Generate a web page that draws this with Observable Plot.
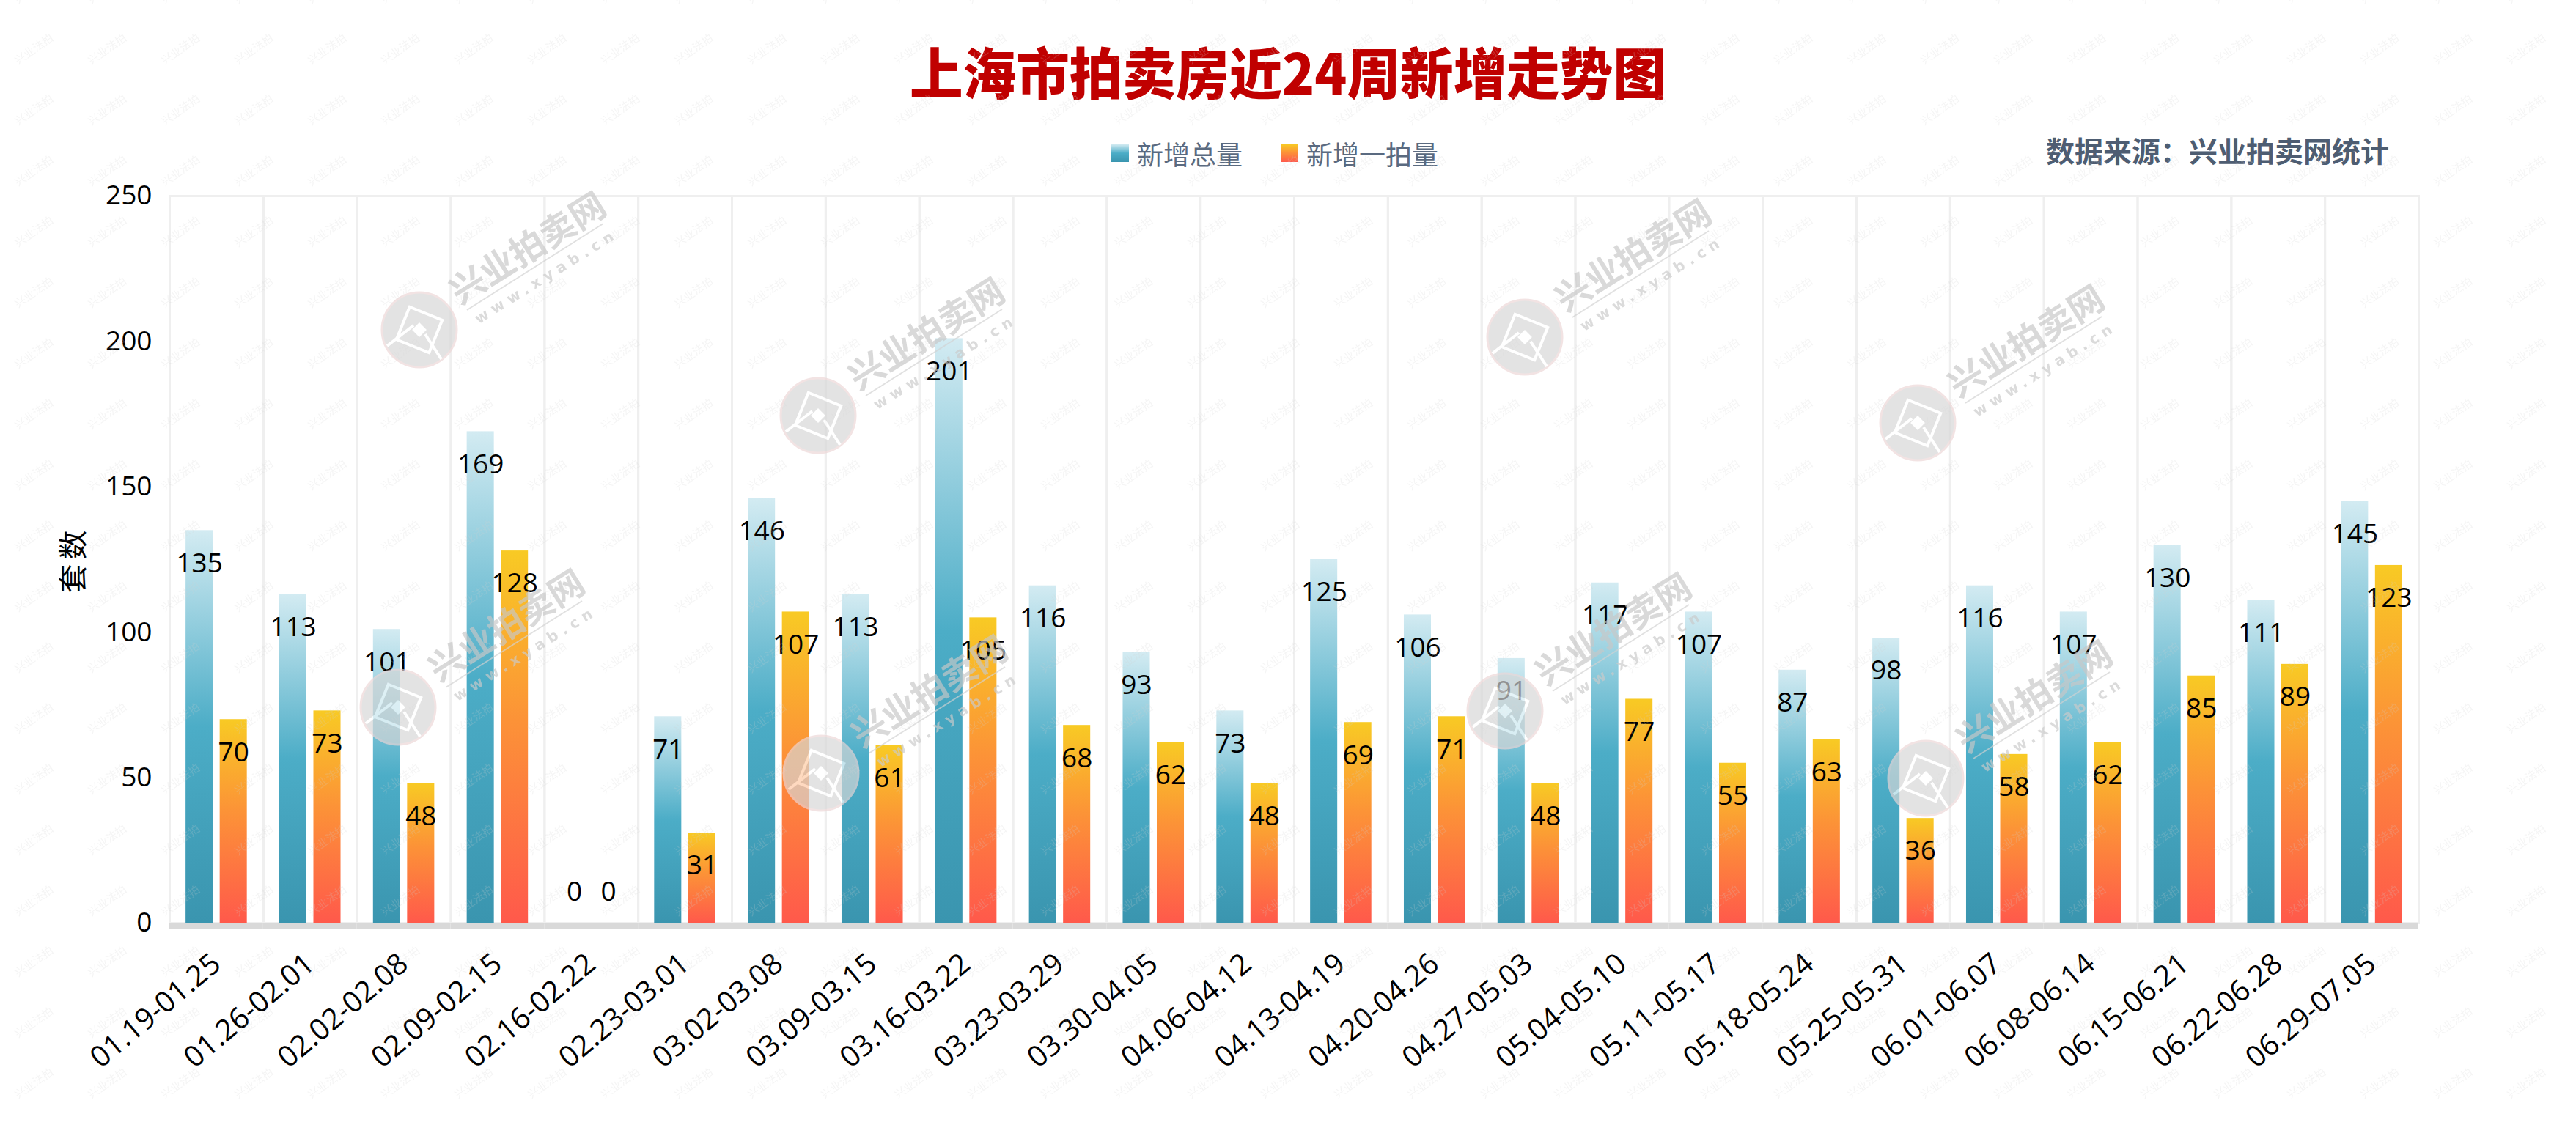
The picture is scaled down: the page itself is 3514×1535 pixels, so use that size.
<!DOCTYPE html>
<html>
<head>
<meta charset="utf-8">
<script src="https://cdn.jsdelivr.net/npm/d3@7"></script>
<script src="https://cdn.jsdelivr.net/npm/@observablehq/plot@0.6"></script>
<style>
  html, body { margin: 0; padding: 0; background: #fff; }
  #wrap { position: relative; width: 3514px; height: 1535px; background: #fff; overflow: hidden; }
  #title { position: absolute; left: 0; width: 3514px; top: 58px; text-align: center;
           font-family: "Noto Sans CJK SC", sans-serif; font-weight: 900; font-size: 76px; line-height: 1;
           color: #c00000; transform: scaleX(0.955); transform-origin: 1757px 0; }
  #legend { position: absolute; left: 1516px; top: 189px; height: 40px; display: flex; align-items: center;
            font-family: "Noto Sans CJK SC", sans-serif; font-size: 36px; color: #5a6a80; }
  .item { display: flex; align-items: center; margin-right: 52px; }
  .sw { width: 24px; height: 24px; margin-right: 11px; }
  #source { position: absolute; right: 255px; top: 182px; font-family: "Noto Sans CJK SC", sans-serif;
            font-weight: 700; font-size: 39px; line-height: 44px; color: #4e5d72; }
  #chart { position: absolute; left: 0; top: 240px; }
  #wm { position: absolute; left: 0; top: 0; pointer-events: none; }
</style>
</head>
<body>
<div id="wrap">
  <div id="title"></div>
  <div id="legend"></div>
  <div id="source"></div>
  <div id="chart"></div>
</div>
<script>
// ---- data ----
const titleText = "上海市拍卖房近24周新增走势图";
const sourceText = "数据来源：兴业拍卖网统计";
const yLabel = "套数";
const weeks = ["01.19-01.25","01.26-02.01","02.02-02.08","02.09-02.15","02.16-02.22","02.23-03.01",
  "03.02-03.08","03.09-03.15","03.16-03.22","03.23-03.29","03.30-04.05","04.06-04.12",
  "04.13-04.19","04.20-04.26","04.27-05.03","05.04-05.10","05.11-05.17","05.18-05.24",
  "05.25-05.31","06.01-06.07","06.08-06.14","06.15-06.21","06.22-06.28","06.29-07.05"];
const seriesNames = ["新增总量", "新增一拍量"];
const totalNew = [135,113,101,169,0,71,146,113,201,116,93,73,125,106,91,117,107,87,98,116,107,130,111,145];
const firstAuctionNew = [70,73,48,128,0,31,107,61,105,68,62,48,69,71,48,77,55,63,36,58,62,85,89,123];
const yTicks = [0, 50, 100, 150, 200, 250];
const yDomain = [0, 250];

// gradients (top -> bottom)
const gradStops = [
  [["0%", "#d3ebf2"], ["50%", "#4cadc7"], ["100%", "#3a95af"]],
  [["0%", "#f8ca24"], ["45%", "#fc9337"], ["100%", "#ff594b"]]
];
const gradIds = ["gTotal", "gFirst"];

const rows = [];
weeks.forEach((w, i) => {
  rows.push({week: w, series: seriesNames[0], value: totalNew[i]});
  rows.push({week: w, series: seriesNames[1], value: firstAuctionNew[i]});
});

// ---- header ----
document.getElementById("title").textContent = titleText;
document.getElementById("source").textContent = sourceText;
const legend = d3.select("#legend");
seriesNames.forEach((s, i) => {
  const it = legend.append("div").attr("class", "item");
  it.append("div").attr("class", "sw")
    .style("background", `linear-gradient(to bottom, ${gradStops[i].map(d => d[1] + " " + d[0]).join(", ")})`);
  it.append("span").text(s);
});

// ---- chart ----
const plot = Plot.plot({
  width: 3514,
  height: 1295,
  marginTop: 27,
  marginBottom: 276,
  marginLeft: 231,
  marginRight: 215,
  style: {fontFamily: "'Open Sans','Noto Sans CJK SC',sans-serif", fontSize: "37px", color: "#000",
          background: "transparent", overflow: "visible"},
  facet: {data: rows, x: "week"},
  fx: {domain: weeks, padding: 0, round: false, axis: "bottom", tickRotate: -40, tickSize: 0,
       tickPadding: 50, label: null},
  x: {domain: seriesNames, paddingInner: 0.204, paddingOuter: 0.476, round: false, axis: null},
  y: {domain: yDomain, ticks: yTicks, tickSize: 0, tickPadding: 24, label: yLabel,
      labelAnchor: "center", labelOffset: 146, labelArrow: "none"},
  marks: [
    Plot.frame({stroke: "#efefef", strokeWidth: 3}),
    Plot.barY(rows, {filter: d => d.series === seriesNames[0], x: "series", y: "value", fill: "url(#gTotal)"}),
    Plot.barY(rows, {filter: d => d.series === seriesNames[1], x: "series", y: "value", fill: "url(#gFirst)"}),
    Plot.ruleY([0], {stroke: "#d9d9d9", strokeWidth: 8, dy: 4}),
    Plot.text(rows, {filter: d => d.value > 0, x: "series", y: "value", text: d => String(d.value), dy: 45, fill: "#000"}),
    Plot.text(rows, {filter: d => d.value === 0, x: "series", y: "value", text: d => String(d.value), dy: -42, fill: "#000"})
  ]
});

const defs = d3.select(plot).insert("defs", ":first-child");
gradIds.forEach((id, i) => {
  const g = defs.append("linearGradient").attr("id", id).attr("x1", 0).attr("y1", 0).attr("x2", 0).attr("y2", 1);
  gradStops[i].forEach(([o, c]) => g.append("stop").attr("offset", o).attr("stop-color", c));
});
// axis text styling
d3.select(plot).selectAll('[aria-label="fx-axis tick label"]').attr("font-size", 40);
d3.select(plot).selectAll('[aria-label="y-axis label"]').attr("font-size", 40).attr("letter-spacing", 6)
  .attr("font-weight", 400);
document.getElementById("chart").appendChild(plot);

// ---- watermark overlay ----
const wmCenters = [[572,450],[1116,567],[543,965],[1120,1055],[2080,460],[2616,577],[2053,970],[2627,1062]];
const wm = d3.select("#wrap").append("svg").attr("id", "wm").attr("width", 3514).attr("height", 1535);
const wdefs = wm.append("defs");
const pat = wdefs.append("pattern").attr("id", "tile").attr("patternUnits", "userSpaceOnUse")
  .attr("x", -3).attr("y", 27).attr("width", 100).attr("height", 83);
pat.append("text").attr("x", 50).attr("y", 41).attr("text-anchor", "middle").attr("dominant-baseline", "middle")
  .attr("transform", "rotate(-35,50,41)").attr("font-family", "Noto Sans CJK SC").attr("font-size", 15)
  .attr("fill", "#d0d0d0").text("兴业法拍");
wm.append("rect").attr("width", 3514).attr("height", 1535).attr("fill", "url(#tile)").attr("opacity", 0.22);

wmCenters.forEach(([cx, cy]) => {
  const g = wm.append("g").attr("transform", `translate(${cx},${cy})`).attr("opacity", 0.68);
  g.append("circle").attr("r", 51).attr("fill", "#d6d6d6").attr("stroke", "#ecd6d6").attr("stroke-width", 3);
  g.append("rect").attr("x", -24).attr("y", -24).attr("width", 48).attr("height", 48)
    .attr("transform", "rotate(22)").attr("fill", "none").attr("stroke", "#fff").attr("stroke-width", 4);
  g.append("path").attr("d", "M-44,22 L-8,-6 M8,6 L30,40").attr("stroke", "#fff").attr("stroke-width", 4).attr("fill", "none");
  g.append("rect").attr("x", -7).attr("y", -7).attr("width", 14).attr("height", 14)
    .attr("transform", "rotate(45)").attr("fill", "#fff");
  g.append("text").attr("transform", "translate(150,-108) rotate(-32)").attr("text-anchor", "middle")
    .attr("dominant-baseline", "middle").attr("font-family", "Noto Sans CJK SC").attr("font-weight", 700)
    .attr("font-size", 48).attr("fill", "#c8c8c8").text("兴业拍卖网");
  g.append("line").attr("x1", 65).attr("y1", -27).attr("x2", 251).attr("y2", -145)
    .attr("stroke", "#d2d2d2").attr("stroke-width", 2);
  g.append("text").attr("transform", "translate(174,-72) rotate(-32)").attr("text-anchor", "middle")
    .attr("dominant-baseline", "middle").attr("font-family", "DejaVu Sans").attr("font-weight", 700)
    .attr("font-size", 20).attr("letter-spacing", 7).attr("fill", "#cacaca").text("www.xyab.cn");
});
</script>
</body>
</html>
